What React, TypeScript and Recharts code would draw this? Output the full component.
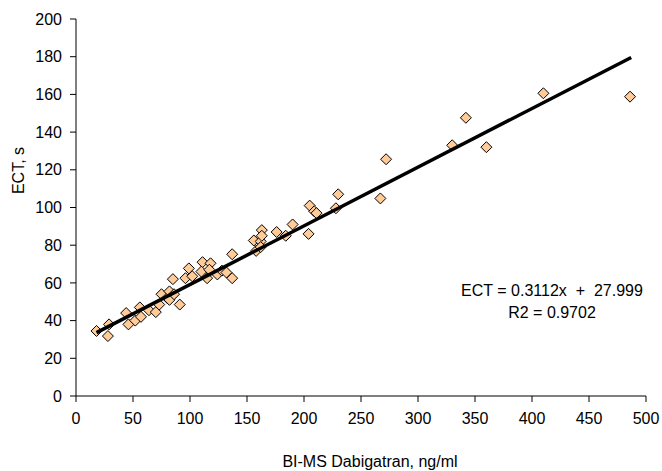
import React from 'react';
import { ScatterChart, Scatter, XAxis, YAxis, Label } from 'recharts';

// BI-MS dabigatran (ng/ml) vs ECT (s)
const dabigatran = [
  18, 28, 29, 44, 46, 52, 56, 57, 64, 70, 73, 75, 80, 82, 82, 85, 86, 91, 96, 99,
  102, 111, 110, 115, 118, 117, 124, 128, 132, 137, 137, 156, 158, 162, 162, 163,
  163, 176, 184, 190, 204, 205, 209, 211, 228, 230, 267, 272, 330, 342, 360, 410, 486,
];
const ect = [
  34.5, 31.8, 38, 44, 38, 40, 47, 42, 45.5, 44.5, 48.5, 54, 52, 55.5, 51, 62, 54, 48.5, 62.5, 67.7,
  63.5, 71, 66, 62.5, 70.4, 67, 64.5, 66.5, 65.5, 62.5, 75.2, 82.5, 77, 82, 79, 88,
  85, 87, 85, 91, 86, 101, 98, 97, 99.6, 107, 104.8, 125.6, 133, 147.6, 132, 160.6, 158.8,
];

// trend line end points
const trendX = [18, 487];
const trendY = [33.6, 179.6];

const xTicks = [0, 50, 100, 150, 200, 250, 300, 350, 400, 450, 500];
const yTicks = [0, 20, 40, 60, 80, 100, 120, 140, 160, 180, 200];

const points = dabigatran.map((x, i) => ({ x, y: ect[i] }));
const trend = trendX.map((x, i) => ({ x, y: trendY[i] }));

const FONT = '"Liberation Sans", Arial, sans-serif';

const Diamond = (props: any) => {
  const { cx, cy } = props;
  const r = 5.5;
  return (
    <path
      d={`M${cx},${cy - r}L${cx + r},${cy}L${cx},${cy + r}L${cx - r},${cy}Z`}
      fill="#FFCC99"
      stroke="#000"
      strokeWidth={1}
    />
  );
};

const NoDot = () => <g />;

export default function App() {
  const tick = { fontSize: 16, fill: '#000', fontFamily: FONT };
  return (
    <div style={{ position: 'absolute', left: 0, top: 0, width: 662, height: 471, background: '#fff', fontFamily: FONT }}>
      <ScatterChart width={662} height={471} margin={{ top: 19, right: 16, bottom: 0, left: 0 }}>
        <XAxis
          type="number"
          dataKey="x"
          domain={[0, 500]}
          ticks={xTicks}
          height={75}
          stroke="#000"
          tick={tick}
          tickSize={6}
          tickMargin={11}
        >
          <Label
            value="BI-MS Dabigatran,  ng/ml"
            position="insideBottom"
            offset={4}
            dx={9}
            style={{ fontSize: 16, fill: '#000', fontFamily: FONT, whiteSpace: 'pre' }}
          />
        </XAxis>
        <YAxis
          type="number"
          dataKey="y"
          domain={[0, 200]}
          ticks={yTicks}
          width={76}
          stroke="#000"
          tick={tick}
          tickSize={6}
          tickMargin={8}
        >
          <Label
            value="ECT, s"
            angle={-90}
            position="insideLeft"
            offset={18}
            dy={-37}
            style={{ fontSize: 16, fill: '#000', fontFamily: FONT, textAnchor: 'middle' }}
          />
        </YAxis>
        <Scatter data={points} shape={<Diamond />} isAnimationActive={false} />
        <Scatter
          data={trend}
          line={{ stroke: '#000', strokeWidth: 3.5 }}
          lineType="joint"
          shape={<NoDot />}
          isAnimationActive={false}
        />
      </ScatterChart>
      <div
        style={{
          position: 'absolute',
          left: 442,
          top: 280,
          width: 220,
          textAlign: 'center',
          fontSize: 16,
          lineHeight: '22px',
          color: '#000',
          whiteSpace: 'pre',
        }}
      >
        {'ECT = 0.3112x  +  27.999\nR2 = 0.9702'}
      </div>
    </div>
  );
}
